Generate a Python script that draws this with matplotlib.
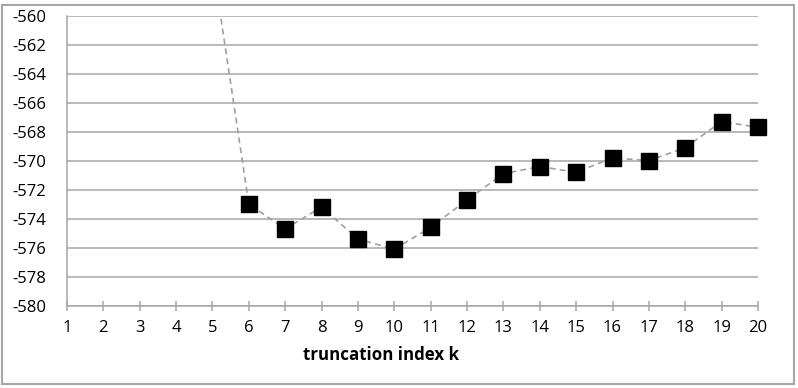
import matplotlib
matplotlib.use("Agg")
import matplotlib.pyplot as plt
from matplotlib.patches import Rectangle

plt.rcParams['font.family'] = ['Open Sans', 'DejaVu Sans']
plt.rcParams['axes.unicode_minus'] = False

k_values = [5, 6, 7, 8, 9, 10, 11, 12, 13, 14, 15, 16, 17, 18, 19, 20]
log_lik = [-556.3, -573.0, -574.7, -573.2, -575.4, -576.1, -574.6, -572.7,
           -570.9, -570.4, -570.8, -569.8, -570.0, -569.1, -567.3, -567.7]
x_ticks = list(range(1, 21))
y_ticks = list(range(-580, -559, 2))

W, H = 798, 388
fig = plt.figure(figsize=(W / 100, H / 100), dpi=100)
fig.patches.append(Rectangle((1.5 / W, (H - 384) / H), (794 - 1.5) / W, (384 - 4.5) / H,
                             transform=fig.transFigure, fill=False,
                             edgecolor='#a6a6a6', linewidth=1.5))

left, right, top, bottom = 67, 758, 15.7, 305.7
ax = fig.add_axes([left / W, (H - bottom) / H, (right - left) / W, (bottom - top) / H])

grid_color = '#a6a6a6'
for y in y_ticks:
    ax.axhline(y, color=grid_color, linewidth=1.1, zorder=1)

# dashed connecting line (clipped to plot area)
ax.plot(k_values, log_lik, color='#a0a0a0', linewidth=1.2, linestyle=(0, (3.5, 2.5)),
        zorder=2)
# markers for the points that fall inside the value range
ax.plot(k_values[1:], log_lik[1:], linestyle='none',
        marker='s', markersize=11, markerfacecolor='black', markeredgecolor='black',
        zorder=3, clip_on=False)

ax.set_xlim(1, 20)
ax.set_ylim(-580, -560)
ax.set_xticks(x_ticks)
ax.set_yticks(y_ticks)

for s in ['top', 'right']:
    ax.spines[s].set_visible(False)
ax.spines['left'].set_color(grid_color)
ax.spines['bottom'].set_color(grid_color)
ax.spines['left'].set_linewidth(1.1)
ax.spines['bottom'].set_linewidth(1.1)

ax.tick_params(axis='y', length=0, pad=15, labelsize=12, labelcolor='black')
ax.tick_params(axis='x', direction='inout', length=7, width=1.1, color=grid_color,
               pad=7, labelsize=12, labelcolor='black')

fig.text(381.5 / W, (H - 355) / H, 'truncation index k', ha='center', va='center',
         fontsize=12.2, fontweight='bold')

fig.savefig('out.png', dpi=100)
